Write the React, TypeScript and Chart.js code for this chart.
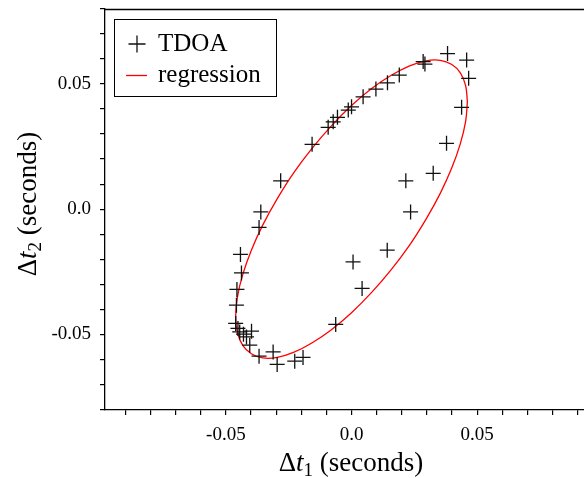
import React, { useEffect, useRef } from "react";
import { Chart, registerables } from "chart.js";

Chart.register(...registerables);

// TDOA measurements (seconds)
const tdoaX = [
  0.0382, 0.0458, 0.0466, 0.0438, 0.0378, 0.0325, 0.0285, 0.0292, 0.0190, 0.0143,
  0.0097, 0.0046, 0.0000, -0.0013, -0.0056, -0.0073, -0.0093, -0.0157, -0.0282, -0.0361,
  -0.0368, -0.0442, 0.0216, 0.0235, 0.0142, 0.0006, 0.0042, -0.0063, -0.0438, -0.0456,
  -0.0458, -0.0461, -0.0452, -0.0445, -0.0398, -0.0418, -0.0405, -0.0368, -0.0312, -0.0296,
  -0.0226, -0.0193, -0.0430,
];
const tdoaY = [
  0.0622, 0.0596, 0.0523, 0.0407, 0.0263, 0.0143, 0.0590, 0.0580, 0.0536, 0.0505,
  0.0480, 0.0449, 0.0409, 0.0396, 0.0367, 0.0349, 0.0327, 0.0259, 0.0113, -0.0011,
  -0.0073, -0.0181, 0.0113, -0.0011, -0.0164, -0.0211, -0.0317, -0.0461, -0.0255, -0.0321,
  -0.0384, -0.0457, -0.0477, -0.0491, -0.0488, -0.0511, -0.0544, -0.0588, -0.0571, -0.0621,
  -0.0608, -0.0593, -0.0500,
];

// Regression ellipse (seconds)
const regX = [
  0.0461, 0.0454, 0.0433, 0.0399, 0.0353, 0.0296, 0.0231, 0.0158, 0.0080, 0.0000,
  -0.0080, -0.0158, -0.0231, -0.0296, -0.0353, -0.0399, -0.0433, -0.0454, -0.0461, -0.0454,
  -0.0433, -0.0399, -0.0353, -0.0296, -0.0231, -0.0158, -0.0080, 0.0000, 0.0080, 0.0158,
  0.0231, 0.0296, 0.0353, 0.0399, 0.0433, 0.0454, 0.0461,
];
const regY = [
  0.0429, 0.0494, 0.0545, 0.0578, 0.0595, 0.0593, 0.0573, 0.0535, 0.0482, 0.0414,
  0.0333, 0.0242, 0.0144, 0.0041, -0.0063, -0.0165, -0.0262, -0.0351, -0.0429, -0.0494,
  -0.0545, -0.0578, -0.0595, -0.0593, -0.0573, -0.0535, -0.0482, -0.0414, -0.0333, -0.0242,
  -0.0144, -0.0041, 0.0063, 0.0165, 0.0262, 0.0351, 0.0429,
];

const xMin = -0.0981;
const xMax = 0.0925;
const yMin = -0.0803;
const yMax = 0.08;

const seriesLabels = ["TDOA", "regression"];
const xTitleSub = "1";
const yTitleSub = "2";
const titleRest = " (seconds)";

const SERIF = '"Liberation Serif", "Times New Roman", serif';

function tickLabel(v: number): string {
  const r = Math.round(v * 100);
  if (r % 5 !== 0) return "";
  if (r === 0) return "0.0";
  return (r / 100).toFixed(2);
}

function drawMathTitle(ctx: CanvasRenderingContext2D, cx: number, baseline: number, sub: string, size: number) {
  const parts = [
    { t: "Δ", font: `${size}px ${SERIF}`, dy: 0 },
    { t: "t", font: `italic ${size}px ${SERIF}`, dy: 0 },
    { t: sub, font: `${Math.round(size * 0.72)}px ${SERIF}`, dy: size * 0.2 },
    { t: titleRest, font: `${size}px ${SERIF}`, dy: 0 },
  ];
  let w = 0;
  const widths: number[] = [];
  for (const p of parts) {
    ctx.font = p.font;
    const m = ctx.measureText(p.t).width;
    widths.push(m);
    w += m;
  }
  let x = cx - w / 2;
  ctx.textBaseline = "alphabetic";
  ctx.textAlign = "left";
  ctx.fillStyle = "#000";
  parts.forEach((p, i) => {
    ctx.font = p.font;
    ctx.fillText(p.t, x, baseline + p.dy);
    x += widths[i];
  });
}

const decorPlugin = {
  id: "decor",
  afterDraw(chart: any) {
    const ctx: CanvasRenderingContext2D = chart.ctx;
    const a = chart.chartArea;
    ctx.save();
    // top frame line
    ctx.strokeStyle = "#000";
    ctx.lineWidth = 1.3;
    ctx.beginPath();
    ctx.moveTo(a.left, a.top + 0.5);
    ctx.lineTo(a.right, a.top + 0.5);
    ctx.stroke();

    // axis titles
    drawMathTitle(ctx, 351, 471, xTitleSub, 27);
    ctx.save();
    ctx.translate(36, 204);
    ctx.rotate(-Math.PI / 2);
    drawMathTitle(ctx, 0, 0, yTitleSub, 27);
    ctx.restore();

    // legend
    ctx.fillStyle = "#fff";
    ctx.fillRect(114.5, 19.5, 162, 77);
    ctx.strokeStyle = "#000";
    ctx.lineWidth = 1;
    ctx.strokeRect(114.5, 19.5, 162, 77);
    ctx.lineWidth = 1.3;
    ctx.strokeStyle = "#111";
    ctx.beginPath();
    ctx.moveTo(128.5, 44);
    ctx.lineTo(145.5, 44);
    ctx.moveTo(137, 35.5);
    ctx.lineTo(137, 52.5);
    ctx.stroke();
    ctx.strokeStyle = "#ff0000";
    ctx.beginPath();
    ctx.moveTo(126, 75.5);
    ctx.lineTo(147, 75.5);
    ctx.stroke();
    ctx.fillStyle = "#000";
    ctx.font = `25px ${SERIF}`;
    ctx.textAlign = "left";
    ctx.textBaseline = "alphabetic";
    ctx.fillText(seriesLabels[0], 158, 51);
    ctx.fillText(seriesLabels[1], 158, 82);
    ctx.restore();
  },
};

export default function App() {
  const ref = useRef<HTMLCanvasElement | null>(null);
  useEffect(() => {
    document.body.style.margin = "0";
    const canvas = ref.current;
    if (!canvas) return;
    const chart = new Chart(canvas, {
      type: "scatter",
      data: {
        datasets: [
          {
            label: seriesLabels[0],
            data: tdoaX.map((x, i) => ({ x, y: tdoaY[i] })),
            pointStyle: "cross",
            pointRadius: 7.5,
            pointHoverRadius: 7.5,
            borderColor: "#111",
            backgroundColor: "#111",
            borderWidth: 1.3,
            showLine: false,
          },
          {
            label: seriesLabels[1],
            data: regX.map((x, i) => ({ x, y: regY[i] })),
            showLine: true,
            pointRadius: 0,
            borderColor: "#ff0000",
            backgroundColor: "#ff0000",
            borderWidth: 1.3,
            tension: 0.4,
            fill: false,
          },
        ],
      },
      options: {
        responsive: true,
        maintainAspectRatio: false,
        animation: false,
        events: [],
        layout: { autoPadding: false, padding: { top: 9, right: 0, left: 0, bottom: 0 } },
        plugins: { legend: { display: false }, tooltip: { enabled: false } },
        scales: {
          x: {
            type: "linear",
            position: "bottom",
            min: xMin,
            max: xMax,
            grid: { display: true, drawOnChartArea: false, drawTicks: true, tickLength: 5, color: "#000", lineWidth: 1.2 },
            border: { display: true, color: "#000", width: 1.3 },
            ticks: {
              stepSize: 0.01,
              includeBounds: false,
              autoSkip: false,
              maxRotation: 0,
              padding: 9,
              color: "#000",
              font: { family: SERIF, size: 19 },
              callback: (v: any) => tickLabel(Number(v)),
            },
            afterFit: (s: any) => {
              s.height = 68;
              s.paddingLeft = 0;
              s.paddingRight = 0;
            },
          },
          y: {
            type: "linear",
            min: yMin,
            max: yMax,
            grid: { display: true, drawOnChartArea: false, drawTicks: true, tickLength: 5, color: "#000", lineWidth: 1.2 },
            border: { display: true, color: "#000", width: 1.3 },
            ticks: {
              stepSize: 0.01,
              includeBounds: false,
              autoSkip: false,
              padding: 9,
              color: "#000",
              font: { family: SERIF, size: 19 },
              callback: (v: any) => tickLabel(Number(v)),
            },
            afterFit: (s: any) => {
              s.width = 105;
              s.paddingTop = 0;
              s.paddingBottom = 0;
            },
          },
        },
      },
      plugins: [decorPlugin],
    } as any);
    return () => chart.destroy();
  }, []);
  return (
    <div style={{ position: "fixed", left: 0, top: 0, width: 584, height: 478 }}>
      <canvas ref={ref} />
    </div>
  );
}
